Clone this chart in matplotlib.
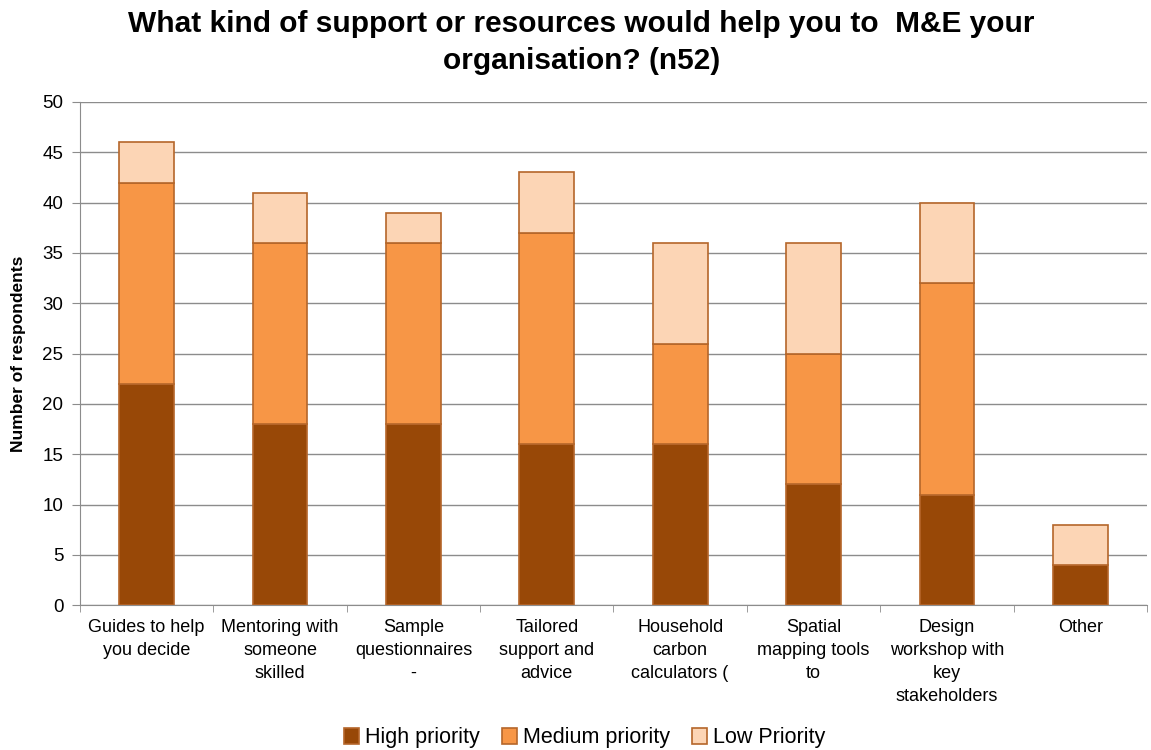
import numpy as np
import matplotlib.pyplot as plt
from matplotlib.ticker import FixedLocator

plt.rcParams['font.family'] = ['Liberation Sans', 'DejaVu Sans']

categories = ["Guides to help\nyou decide", "Mentoring with\nsomeone\nskilled",
              "Sample\nquestionnaires\n-", "Tailored\nsupport and\nadvice",
              "Household\ncarbon\ncalculators (", "Spatial\nmapping tools\nto",
              "Design\nworkshop with\nkey\nstakeholders", "Other"]
high = [22, 18, 18, 16, 16, 12, 11, 4]
medium = [20, 18, 18, 21, 10, 13, 21, 0]
low = [4, 5, 3, 6, 10, 11, 8, 4]
series = ["High priority", "Medium priority", "Low Priority"]
colors = ["#984807", "#F79646", "#FCD5B5"]

fig = plt.figure(figsize=(11.51, 7.5), dpi=100)
ax = fig.add_axes([0.0695, 0.193, 0.927, 0.671])

x = np.arange(len(categories))
w = 0.41
bottom = np.zeros(len(categories))
for vals, name, c in zip([high, medium, low], series, colors):
    vals = np.array(vals, dtype=float)
    ax.bar(x, vals, w, bottom=bottom, color=c, edgecolor="#B5662A",
           linewidth=1.2, label=name, zorder=3)
    bottom += vals

ax.set_xlim(-0.5, len(categories) - 0.5)
ax.set_ylim(0, 50)
ax.set_yticks(range(0, 51, 5))
ax.yaxis.grid(True, color="#8C8C8C", linewidth=1, zorder=0)
ax.set_xticks(x)
ax.set_xticklabels(categories, fontsize=13, linespacing=1.45)
ax.xaxis.set_minor_locator(FixedLocator(np.arange(-0.5, len(categories), 1)))
ax.tick_params(axis="x", which="major", length=0, pad=10)
ax.tick_params(axis="x", which="minor", length=5, color="#8C8C8C")
ax.tick_params(axis="y", labelsize=13.5, length=6, color="#8C8C8C", pad=6)
for s in ["top", "right"]:
    ax.spines[s].set_visible(False)
for s in ["left", "bottom"]:
    ax.spines[s].set_color("#8C8C8C")
ax.set_ylabel("Number of respondents", fontsize=12.5, fontweight="bold", labelpad=12)

fig.suptitle("What kind of support or resources would help you to  M&E your\norganisation? (n52)",
             fontsize=21.5, fontweight="bold", y=0.987, x=0.505, linespacing=1.4)

fig.legend(loc="center", bbox_to_anchor=(0.508, 0.016), ncol=3, frameon=False,
           fontsize=15.5, handlelength=0.7, handleheight=0.7, handletextpad=0.3,
           columnspacing=1.0)

fig.savefig("out.png", dpi=100)
